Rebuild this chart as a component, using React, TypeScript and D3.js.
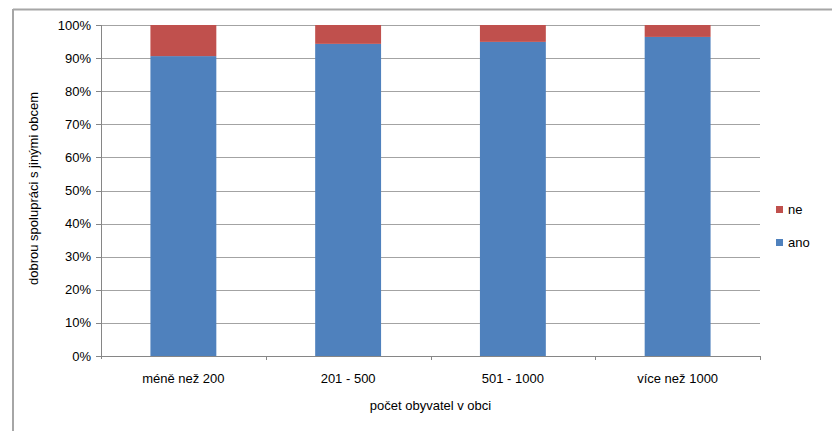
import React from "react";
import * as d3 from "d3";

const categories = ["méně než 200", "201 - 500", "501 - 1000", "více než 1000"];
const anoValues = [90.6, 94.3, 94.9, 96.4];
const neValues = anoValues.map((v) => 100 - v);
const yTicks = [0, 10, 20, 30, 40, 50, 60, 70, 80, 90, 100];
const seriesNames = ["ano", "ne"];
const seriesColors = ["#4f81bd", "#c0504d"];

export default function App() {
  const W = 832, H = 431;
  const left = 101, right = 760, top = 25, bottom = 356;
  const x = d3.scaleBand<string>().domain(categories).range([left, right]).paddingInner(0.6).paddingOuter(0.3);
  const xOuter = d3.scaleBand<string>().domain(categories).range([left, right]);
  const y = d3.scaleLinear().domain([0, 100]).range([bottom, top]);
  const stackData = categories.map((c, i) => ({ cat: c, ano: anoValues[i], ne: neValues[i] }));
  const stacked = d3.stack<any>().keys(seriesNames)(stackData);
  const font = "'Liberation Sans', Arial, sans-serif";
  return (
    <svg width={W} height={H} style={{ position: "absolute", left: 0, top: 0, background: "#fff" }} fontFamily={font}>
      <rect x={0} y={0} width={W} height={H} fill="#fff" />
      <line x1={13} x2={W} y1={9.5} y2={9.5} stroke="#a6a6a6" strokeWidth={2} />
      <line x1={13} x2={13} y1={9} y2={H} stroke="#a6a6a6" strokeWidth={2} />
      {yTicks.map((t) => (
        <g key={t}>
          <line x1={left} x2={right} y1={Math.round(y(t)) + 0.5} y2={Math.round(y(t)) + 0.5} stroke={t === 0 ? "#868686" : "#a3a3a3"} />
          <line x1={left - 5} x2={left} y1={Math.round(y(t)) + 0.5} y2={Math.round(y(t)) + 0.5} stroke="#868686" />
          <text x={91} y={y(t)} dy="0.35em" textAnchor="end" fontSize={13} fill="#000">{t}%</text>
        </g>
      ))}
      <line x1={left + 0.5} x2={left + 0.5} y1={top} y2={bottom + 3} stroke="#868686" />
      {categories.map((c, i) => (
        <line key={c} x1={Math.round(xOuter(c)! + xOuter.bandwidth()) + 0.5} x2={Math.round(xOuter(c)! + xOuter.bandwidth()) + 0.5} y1={bottom} y2={bottom + 4} stroke="#868686" />
      ))}
      {stacked.map((s, si) => (
        <g key={s.key} fill={seriesColors[si]}>
          {s.map((d: any) => (
            <rect key={d.data.cat} x={x(d.data.cat)} width={x.bandwidth()} y={y(d[1])} height={y(d[0]) - y(d[1])} />
          ))}
        </g>
      ))}
      {categories.map((c) => (
        <text key={c} x={x(c)! + x.bandwidth() / 2} y={383} textAnchor="middle" fontSize={13} fill="#000">{c}</text>
      ))}
      <text x={(left + right) / 2} y={410} textAnchor="middle" fontSize={13} fill="#000">počet obyvatel v obci</text>
      <text transform={`translate(38,${(top + bottom) / 2 - 2}) rotate(-90)`} textAnchor="middle" fontSize={13} fill="#000">dobrou spolupráci s jinými obcem</text>
      {["ne", "ano"].map((n, i) => (
        <g key={n}>
          <rect x={776} y={206 + i * 33} width={7} height={7} fill={seriesColors[seriesNames.indexOf(n)]} />
          <text x={788} y={214 + i * 33} fontSize={13} fill="#000">{n}</text>
        </g>
      ))}
    </svg>
  );
}
